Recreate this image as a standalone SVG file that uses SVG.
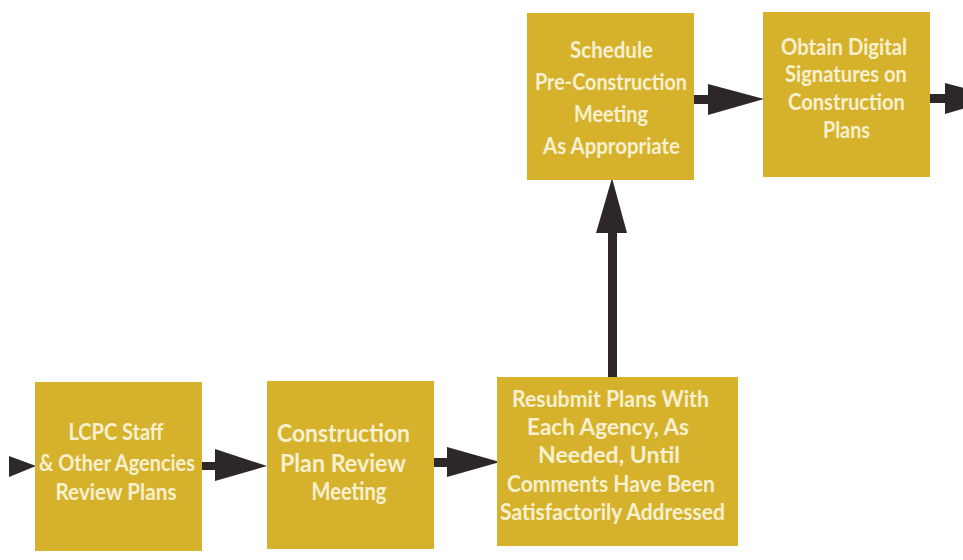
<svg xmlns="http://www.w3.org/2000/svg" width="963" height="560" viewBox="0 0 963 560">
<style>
.box{fill:#d6b22c;}
.lbl{font-family:Lato,"Open Sans","Liberation Sans",sans-serif;font-weight:700;fill:#f6f0d0;text-anchor:middle;}
.arr{fill:#2e2729;}
</style>
<rect x="0" y="0" width="963" height="560" fill="#ffffff"/>
<g id="connectors">
  <polygon class="arr" points="9,456 36,466 9,477"/>
  <path class="arr" d="M202,462 H215 V449 L267,466 L215,481 V470 H202 Z"/>
  <path class="arr" d="M433,458 H447 V447 L500,462 L447,477 V467 H433 Z"/>
  <path class="arr" d="M608,377 V233 H596 L612,178 L627,233 H617 V377 Z"/>
  <path class="arr" d="M693,95 H708 V84 L764,99 L708,115 V104 H693 Z"/>
  <path class="arr" d="M930,94 H945 V83 L1001,98 L945,114 V103 H930 Z"/>
</g>
<g id="n1">
  <rect class="box" x="35" y="382" width="167" height="169"/>
  <text class="lbl" font-size="23.5"><tspan x="116" y="440" textLength="95" lengthAdjust="spacingAndGlyphs">LCPC Staff</tspan><tspan x="117" y="471" textLength="156" lengthAdjust="spacingAndGlyphs">&amp; Other Agencies</tspan><tspan x="116" y="500" textLength="121" lengthAdjust="spacingAndGlyphs">Review Plans</tspan></text>
</g>
<g id="n2">
  <rect class="box" x="267" y="381" width="167" height="168"/>
  <text class="lbl" font-size="24"><tspan x="343.5" y="442" textLength="133" lengthAdjust="spacingAndGlyphs">Construction</tspan><tspan x="343" y="472" textLength="126" lengthAdjust="spacingAndGlyphs">Plan Review</tspan><tspan x="349" y="500" textLength="75" lengthAdjust="spacingAndGlyphs">Meeting</tspan></text>
</g>
<g id="n3">
  <rect class="box" x="497" y="377" width="241" height="169"/>
  <text class="lbl" font-size="22.5"><tspan x="610.5" y="407" textLength="197" lengthAdjust="spacingAndGlyphs">Resubmit Plans With</tspan><tspan x="608" y="435" textLength="162" lengthAdjust="spacingAndGlyphs">Each Agency, As</tspan><tspan x="609" y="463" textLength="142" lengthAdjust="spacingAndGlyphs">Needed, Until</tspan><tspan x="611" y="492" textLength="208" lengthAdjust="spacingAndGlyphs">Comments Have Been</tspan><tspan x="612.5" y="520" textLength="225" lengthAdjust="spacingAndGlyphs">Satisfactorily Addressed</tspan></text>
</g>
<g id="n4">
  <rect class="box" x="527" y="13" width="167" height="167"/>
  <text class="lbl" font-size="23.5"><tspan x="611.5" y="58" textLength="83" lengthAdjust="spacingAndGlyphs">Schedule</tspan><tspan x="611" y="90" textLength="152" lengthAdjust="spacingAndGlyphs">Pre-Construction</tspan><tspan x="611" y="122" textLength="74" lengthAdjust="spacingAndGlyphs">Meeting</tspan><tspan x="611.5" y="154" textLength="137" lengthAdjust="spacingAndGlyphs">As Appropriate</tspan></text>
</g>
<g id="n5">
  <rect class="box" x="763" y="12" width="167" height="165"/>
  <text class="lbl" font-size="22"><tspan x="844" y="55" textLength="126" lengthAdjust="spacingAndGlyphs">Obtain Digital</tspan><tspan x="846" y="82" textLength="122" lengthAdjust="spacingAndGlyphs">Signatures on</tspan><tspan x="846.5" y="110" textLength="117" lengthAdjust="spacingAndGlyphs">Construction</tspan><tspan x="846.5" y="138" textLength="47" lengthAdjust="spacingAndGlyphs">Plans</tspan></text>
</g>
</svg>
